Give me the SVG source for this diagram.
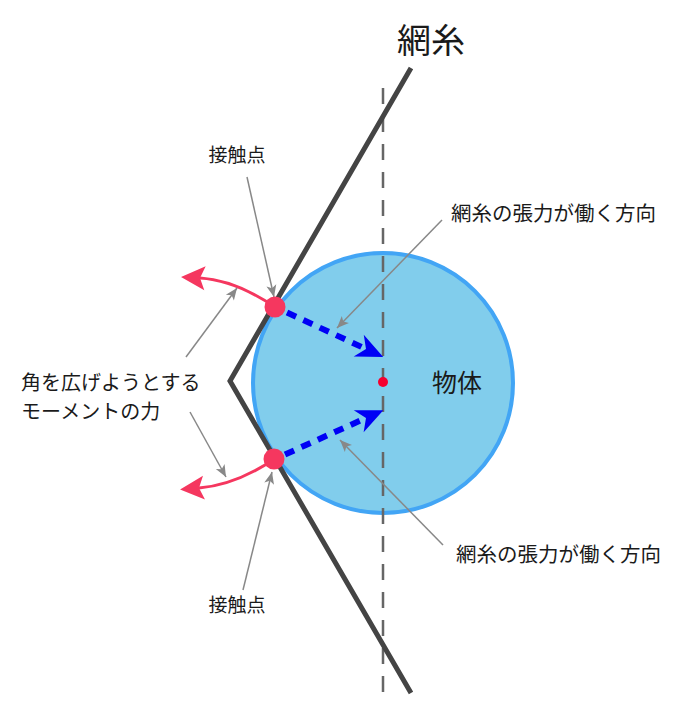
<svg xmlns="http://www.w3.org/2000/svg" width="680" height="720" viewBox="0 0 680 720">
<style>
text{font-family:"Noto Sans CJK JP","Noto Sans",sans-serif;fill:#1a1a1a}
.lbl{font-size:20px}
.ann{fill:none;stroke:#888;stroke-width:1.5}
.blue{fill:none;stroke:#0000f5;stroke-width:6;stroke-dasharray:10 8}
.pink{fill:none;stroke:#f5375f;stroke-width:3}
</style>
<defs>
<marker id="ag" markerUnits="userSpaceOnUse" markerWidth="14" markerHeight="12" refX="12" refY="0" viewBox="0 -6 14 12" orient="auto" overflow="visible">
<path d="M0,-5 L12,0 L0,5 L3,0 z" fill="#888"/>
</marker>
<marker id="ab" markerUnits="userSpaceOnUse" markerWidth="30" markerHeight="26" refX="8" refY="0" viewBox="0 -13 30 26" orient="auto" overflow="visible">
<path d="M0,-12 L27,0 L0,12 L8,0 z" fill="#0000f5"/>
</marker>
<marker id="ap" markerUnits="userSpaceOnUse" markerWidth="26" markerHeight="26" refX="5" refY="0" viewBox="0 -13 26 26" orient="auto" overflow="visible">
<path d="M0,-12 L24,0 L0,12 L5,0 z" fill="#f5375f"/>
</marker>
</defs>
<g id="object">
<circle cx="383" cy="383" r="130" fill="#81cdec" stroke="#42a5f5" stroke-width="4"/>
<text x="457" y="392" font-size="25" text-anchor="middle">物体</text>
</g>
<g id="axis">
<line x1="383" y1="88" x2="383" y2="695" stroke="#666" stroke-width="2.5" stroke-dasharray="16 12"/>
</g>
<g id="net">
<polyline points="411,68 230,381 411,693" fill="none" stroke="#444" stroke-width="5"/>
<text x="431" y="53" font-size="34" text-anchor="middle">網糸</text>
</g>
<g id="connectors">
<line class="blue" x1="287" y1="312.5" x2="366" y2="349" marker-end="url(#ab)"/>
<line class="blue" x1="285" y1="454.5" x2="366" y2="418" marker-end="url(#ab)"/>
<path class="pink" d="M275,307 Q235,280 200,278" marker-end="url(#ap)"/>
<path class="pink" d="M273,460 Q235,485 199,488" marker-end="url(#ap)"/>
<line class="ann" x1="247" y1="177" x2="274" y2="297" marker-end="url(#ag)"/>
<line class="ann" x1="243" y1="590" x2="272" y2="472" marker-end="url(#ag)"/>
<line class="ann" x1="186" y1="357" x2="237" y2="288" marker-end="url(#ag)"/>
<line class="ann" x1="190" y1="412" x2="226" y2="477" marker-end="url(#ag)"/>
<line class="ann" x1="442" y1="220" x2="337" y2="328" marker-end="url(#ag)"/>
<line class="ann" x1="443" y1="545" x2="340" y2="440" marker-end="url(#ag)"/>
</g>
<g id="contact-top">
<circle cx="275" cy="307" r="10.5" fill="#f5375f"/>
</g>
<g id="contact-bottom">
<circle cx="274" cy="459" r="10.5" fill="#f5375f"/>
</g>
<g id="center">
<circle cx="383" cy="382" r="5" fill="#f5002f"/>
</g>
<g id="label-contact-top"><text class="lbl" x="237" y="162" text-anchor="middle" style="font-size:19px">接触点</text></g>
<g id="label-contact-bottom"><text class="lbl" x="237" y="612" text-anchor="middle" style="font-size:19px">接触点</text></g>
<g id="label-moment"><text class="lbl" x="21" y="390">角を広げようとする</text><text class="lbl" x="21" y="419">モーメントの力</text></g>
<g id="label-tension-top"><text class="lbl" x="451" y="221" style="font-size:20.5px">網糸の張力が働く方向</text></g>
<g id="label-tension-bottom"><text class="lbl" x="456" y="562" style="font-size:20.5px">網糸の張力が働く方向</text></g>
</svg>
